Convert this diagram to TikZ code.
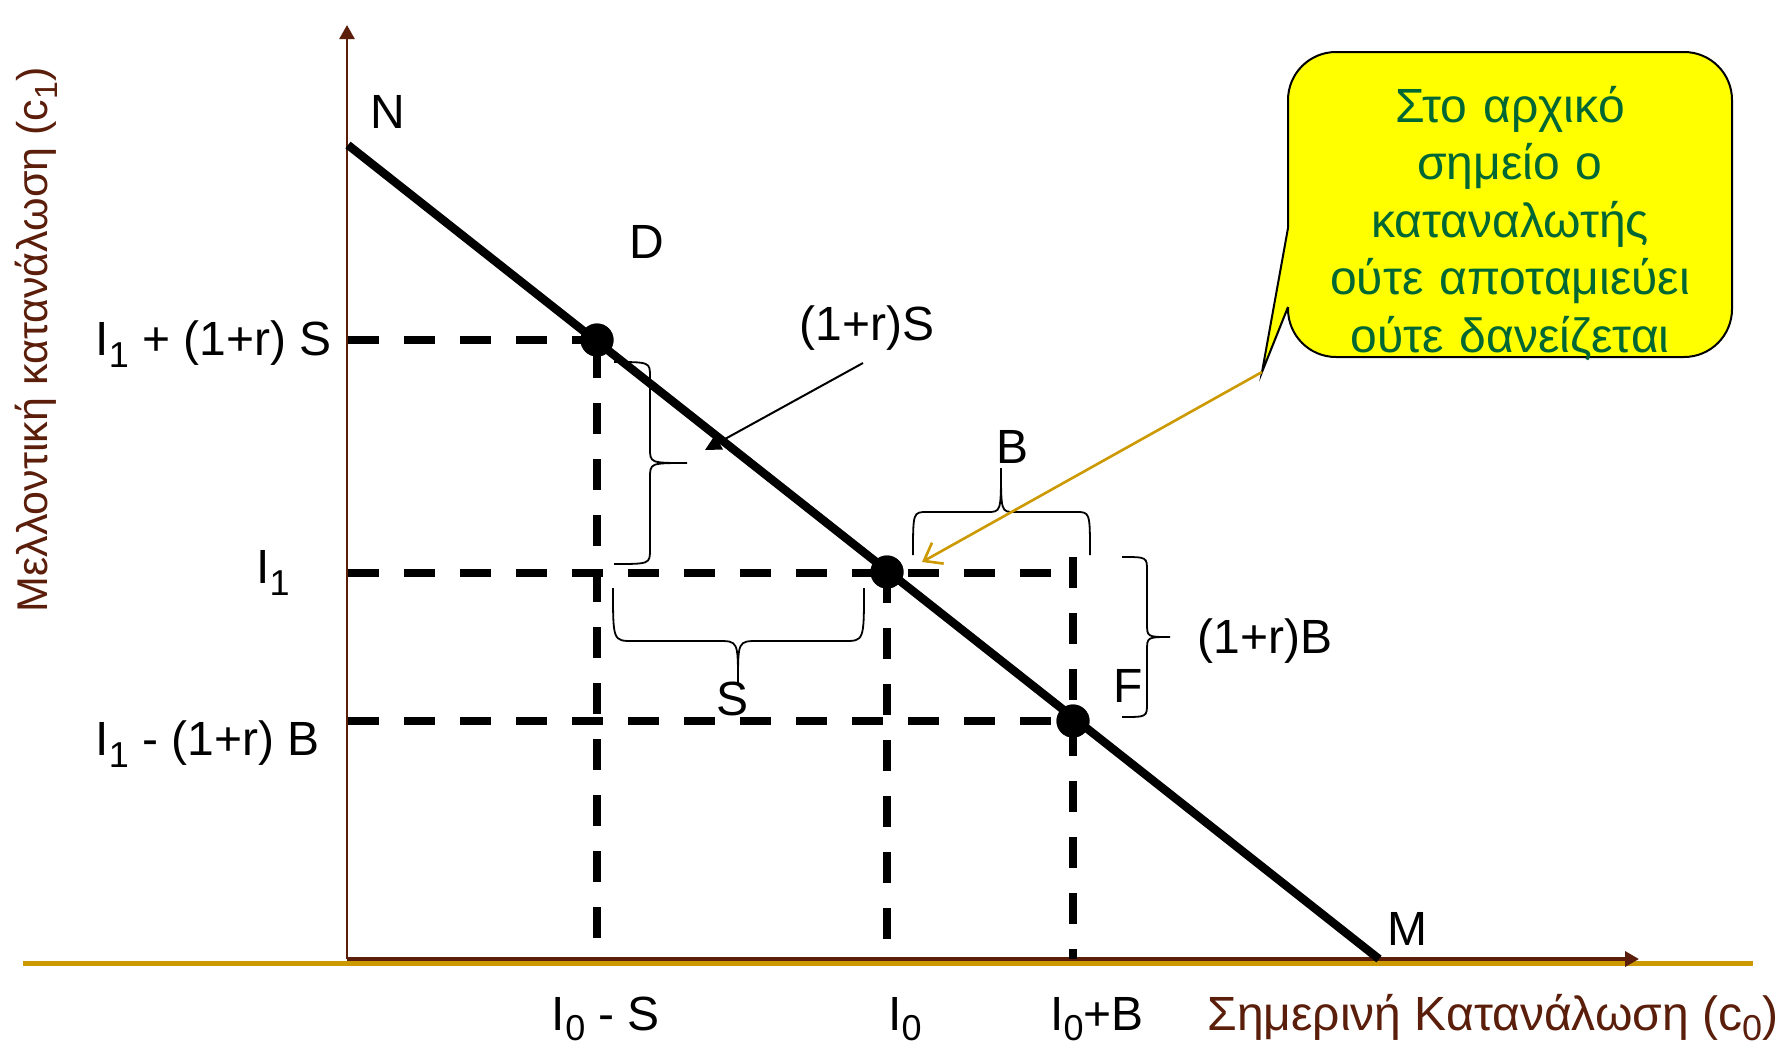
\documentclass[tikz,border=0pt]{standalone}
\usepackage{fontspec}
\setmainfont{Liberation Sans}
\usetikzlibrary{arrows.meta}
\definecolor{axbrown}{RGB}{90,30,10}
\definecolor{goldc}{RGB}{204,153,0}
\definecolor{txtgreen}{RGB}{0,102,51}
\definecolor{bubbleyellow}{RGB}{255,255,0}
\newcommand{\sbs}[1]{\raisebox{-6pt}{\fontsize{18}{18}\selectfont #1}}
\newcommand{\sbb}[1]{\raisebox{-5pt}{\fontsize{18}{18}\selectfont #1}}
\begin{document}
\begin{tikzpicture}[x=0.5pt,y=-0.5pt,
  font=\fontsize{24}{28.75}\selectfont,
  dashline/.style={line width=4pt, dash pattern=on 15.5pt off 12.5pt},
  budget/.style={line width=4.2pt},
  dot/.style={circle, fill=black, minimum size=16.5pt, inner sep=0pt},
  bracestyle/.style={line width=0.9pt},
  lbl/.style={anchor=base, inner sep=0pt},
  axisline/.style={draw=axbrown, -{Triangle[length=7pt,width=7.5pt]}}
]
\fill[white] (0,0) rectangle (1791,1045);
\useasboundingbox (0,0) rectangle (1791,1045);

% axes
\coordinate (O) at (347,959);
\coordinate (ytip) at (347,25);
\coordinate (xtip) at (1639,959);
\coordinate (g1) at (23,963);
\coordinate (g2) at (1753,963);
\draw[goldc, line width=2.5pt] (g1) -- (g2);
\draw[axisline, line width=1.25pt] (O) -- (ytip);
\draw[axisline, line width=2pt] (O) -- (xtip);

% points
\coordinate (N) at (348,145);
\coordinate (M) at (1379,959);
\node[dot] (D) at (597,340) {};
\node[dot] (I0) at (887,572) {};
\node[dot] (F) at (1073,721) {};

% dashed guides
\coordinate (yS) at (348,340);
\coordinate (yI1) at (348,573);
\coordinate (xI1end) at (1075,573);
\coordinate (yB) at (348,721);
\coordinate (Dv) at (597,347);
\coordinate (xD) at (597,959);
\coordinate (xI0) at (887,959);
\coordinate (Ftop) at (1073,557);
\coordinate (xF) at (1073,959);
\draw[dashline] (yS) -- (D.center);
\draw[dashline] (yI1) -- (xI1end);
\draw[dashline] (yB) -- (F.center);
\draw[dashline] (Dv) -- (xD);
\draw[dashline] (I0.center) -- (xI0);
\draw[dashline] (Ftop) -- (xF);

% budget line
\draw[budget] (N) -- (M);
\node[dot] at (D) {};
\node[dot] at (I0) {};
\node[dot] at (F) {};

% braces
\draw[bracestyle] (614,362) .. controls (650,362) .. (650,377) -- (650,448)
  .. controls (650,463) .. (687,463) .. controls (650,463) .. (650,478) -- (650,549)
  .. controls (650,564) .. (614,564);
\draw[bracestyle] (613,588) .. controls (613,641) .. (633,641) -- (718,641)
  .. controls (738,641) .. (738,683) .. controls (738,641) .. (758,641) -- (844,641)
  .. controls (864,641) .. (864,588);
\draw[bracestyle] (913,555) .. controls (913,512) .. (927,512) -- (987,512)
  .. controls (1001,512) .. (1001,468) .. controls (1001,512) .. (1015,512) -- (1076,512)
  .. controls (1090,512) .. (1090,555);
\draw[bracestyle] (1122,557) .. controls (1147,557) .. (1147,571) -- (1147,623)
  .. controls (1147,637) .. (1170,637) .. controls (1147,637) .. (1147,651) -- (1147,703)
  .. controls (1147,717) .. (1122,717);

% (1+r)S arrow
\coordinate (aS1) at (863,363);
\coordinate (aS2) at (705,450);
\draw[line width=1pt, -{Triangle[length=8pt,width=8pt]}] (aS1) -- (aS2);

% labels
\node[lbl] (lN) at (388,128) {N};
\node[lbl] (lD) at (647,258) {D};
\node[lbl] (l1rS) at (867,340) {(1+r)S};
\node[lbl] (lB) at (1012,463) {B};
\node[lbl] (lS) at (732,715) {S};
\node[lbl] (lF) at (1128,702) {F};
\node[lbl] (l1rB) at (1265,653) {(1+r)B};
\node[lbl] (lM) at (1407,945) {M};
\node[lbl, anchor=base east] (lI1S) at (332,355) {I\sbs{1} + (1+r) S};
\node[lbl, anchor=base east] (lI1) at (290,583) {I\sbs{1}};
\node[lbl, anchor=base east] (lI1B) at (320,755) {I\sbs{1} - (1+r) B};
\node[lbl] (lI0S) at (606,1030) {I\sbb{0} - S};
\node[lbl] (lI0) at (905,1030) {I\sbb{0}};
\node[lbl] (lI0B) at (1097,1030) {I\sbb{0}+B};
\node[lbl, anchor=base west, text=axbrown] (xlab) at (1207,1030) {Σημερινή Κατανάλωση (c\sbb{0})};
\node[lbl, rotate=90, text=axbrown, font=\fontsize{21.5}{26}\selectfont] (ylab) at (47,340)
  {Μελλοντική κατανάλωση (c\raisebox{-5pt}{\fontsize{16}{16}\selectfont 1})};

% callout bubble
\coordinate (bTL) at (1288,52);
\coordinate (bBR) at (1732,357);
\coordinate (tail) at (1262,372);
\coordinate (tA) at (1288,228);
\coordinate (tB) at (1288,307);
\filldraw[fill=bubbleyellow, draw=black, line width=1pt, rounded corners=24pt] (bTL) rectangle (bBR);
\fill[bubbleyellow] (tail) -- (tA) -- (1291,228) -- (1291,307) -- (tB) -- cycle;
\draw[line width=1pt] (tA) -- (tail) -- (tB);
\node[lbl, text=txtgreen, text width=220pt, align=center] (btext) at (1510,122)
  {Στο αρχικό\\σημείο ο\\καταναλωτής\\ούτε αποταμιεύει\\ούτε δανείζεται};

% gold pointer
\coordinate (gtip) at (922,562);
\draw[goldc, line width=1.3pt, -{Straight Barb[length=8pt,width=12pt]}] (tail) -- (gtip);
\end{tikzpicture}
\end{document}
